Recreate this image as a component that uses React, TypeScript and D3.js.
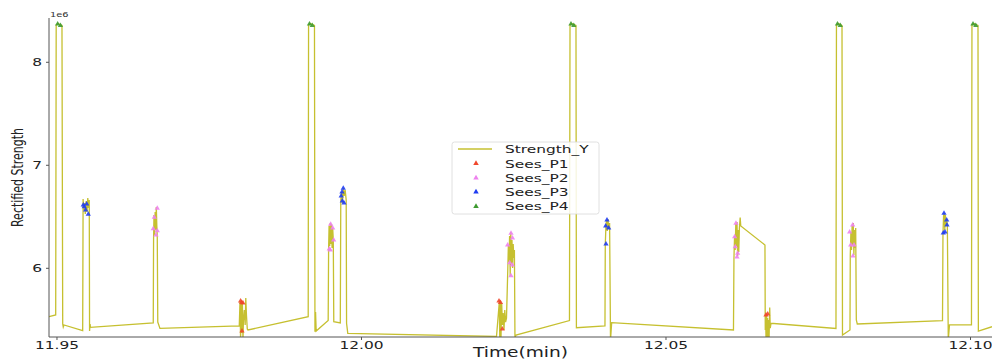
import React from "react";
import * as d3 from "d3";

// ---- data (time in minutes, strength in units of 1e6) ----
const lineTime = [
  11.94869, 11.94979, 11.94987, 11.95016, 11.95049, 11.95082, 11.95094, 11.95103, 11.95115, 11.95422,
  11.95429, 11.9544, 11.95452, 11.95465, 11.9548, 11.95493, 11.95506, 11.95519, 11.9553, 11.95535,
  11.95544, 11.9555, 11.96581, 11.96586, 11.96593, 11.96603, 11.96612, 11.96622, 11.96631, 11.96639,
  11.96647, 11.96655, 11.96691, 11.97993, 11.98005, 11.98015, 11.98025, 11.98034, 11.98044, 11.98054,
  11.98062, 11.98076, 11.9809, 11.981, 11.98112, 11.98125, 11.98136, 11.99125, 11.99131, 11.99163,
  11.99195, 11.99228, 11.99236, 11.99246, 11.99256, 11.99453, 11.9946, 11.99468, 11.99478, 11.99488,
  11.99497, 11.99507, 11.99517, 11.99527, 11.99537, 11.99545, 11.99652, 11.9966, 11.99672, 11.99688,
  11.99701, 11.99716, 11.99732, 11.99749, 11.99755, 11.99775, 12.02217, 12.02263, 12.02271, 12.02281,
  12.0229, 12.02302, 12.02314, 12.02327, 12.0234, 12.02353, 12.02366, 12.02381, 12.02402, 12.02412,
  12.02422, 12.02432, 12.02442, 12.02451, 12.02461, 12.02471, 12.02481, 12.02491, 12.02501, 12.02511,
  12.0252, 12.02537, 12.03415, 12.03424, 12.03456, 12.03489, 12.03522, 12.03529, 12.03998, 12.04003,
  12.04013, 12.04024, 12.04036, 12.04047, 12.04061, 12.04074, 12.04089, 12.04108, 12.06108, 12.06116,
  12.06126, 12.06136, 12.06146, 12.06156, 12.06166, 12.06176, 12.06185, 12.06195, 12.06205, 12.06218,
  12.06228, 12.06625, 12.0663, 12.06635, 12.06643, 12.06652, 12.0666, 12.06668, 12.06676, 12.06685,
  12.06693, 12.06703, 12.06712, 12.06724, 12.07791, 12.07799, 12.07832, 12.07865, 12.0789, 12.07898,
  12.08021, 12.08026, 12.08036, 12.08046, 12.08056, 12.08065, 12.08075, 12.08085, 12.08095, 12.08105,
  12.08115, 12.08125, 12.08141, 12.0954, 12.09548, 12.09558, 12.09568, 12.09578, 12.09588, 12.09597,
  12.09609, 12.0962, 12.09635, 12.09655, 12.10016, 12.10024, 12.10057, 12.1009, 12.10123, 12.10129,
  12.10353,
];

const strengthY = [
  5.53, 5.547, 8.362, 8.377, 8.367, 8.357, 5.459, 5.43, 5.45, 5.396,
  6.673, 6.566, 6.634, 6.527, 6.653, 6.547, 6.683, 6.585, 6.663, 5.391,
  5.459, 5.427, 5.469, 6.275, 6.518, 6.323, 6.547, 6.372, 6.595, 6.42,
  6.294, 5.478, 5.417, 5.44, 5.673, 5.304, 5.682, 5.372, 5.673, 5.304,
  5.498, 5.595, 5.45, 5.712, 5.537, 5.411, 5.401, 5.53, 8.362, 8.377,
  8.367, 8.357, 5.384, 5.576, 5.391, 5.493, 6.178, 6.41, 6.216, 6.439,
  6.236, 6.43, 6.197, 6.391, 6.275, 5.482, 5.469, 6.663, 6.741, 6.634,
  6.779, 6.702, 6.76, 6.663, 5.466, 5.369, 5.338, 5.673, 5.304, 5.682,
  5.304, 5.663, 5.45, 5.566, 5.401, 5.595, 5.478, 5.517, 5.984, 6.226,
  6.061, 6.313, 5.925, 6.353, 6.042, 6.275, 6.003, 6.236, 6.1, 6.178,
  5.323, 5.352, 5.493, 8.362, 8.377, 8.367, 8.357, 5.423, 5.44, 6.226,
  6.401, 6.469, 6.362, 6.479, 6.382, 6.44, 5.304, 5.472, 5.401, 6.1,
  6.313, 6.178, 6.43, 6.216, 6.449, 6.119, 6.372, 6.158, 6.391, 6.493,
  6.411, 6.226, 5.401, 5.537, 5.304, 5.556, 5.304, 5.517, 5.304, 5.498,
  5.323, 5.619, 5.42, 5.466, 5.416, 8.362, 8.377, 8.367, 8.357, 5.352,
  5.401, 6.129, 6.352, 6.178, 6.411, 6.216, 6.439, 6.129, 6.372, 6.197,
  6.391, 5.498, 5.459, 5.491, 6.333, 6.508, 6.537, 6.372, 6.518, 6.411,
  6.479, 6.411, 5.304, 5.45, 5.45, 8.362, 8.377, 8.367, 8.357, 5.391,
  5.433,
];

const p1Time = [11.98015, 11.98034, 11.98054, 11.98038, 12.02258, 12.02282, 12.02312, 12.06642, 12.0667];
const p1Value = [5.682, 5.668, 5.663, 5.391, 5.682, 5.668, 5.411, 5.547, 5.556];

const p2Time = [
  11.96647, 11.96598, 11.96581, 11.96647, 11.96626,
  11.99494, 11.99527, 11.99543, 11.99488, 11.99471,
  12.02455, 12.02479, 12.024, 12.02433, 12.02476, 12.02455,
  12.06149, 12.06128, 12.06138, 12.06177, 12.06166,
  12.08065, 12.08016, 12.08033, 12.08087, 12.0807,
];
const p2Value = [
  6.583, 6.495, 6.384, 6.365, 6.323,
  6.427, 6.391, 6.275, 6.178, 6.188,
  6.34, 6.294, 6.226, 6.054, 6.032, 5.928,
  6.437, 6.307, 6.21, 6.146, 6.11,
  6.42, 6.352, 6.226, 6.226, 6.119,
];

const p3Time = [
  11.95432, 11.95448, 11.95471, 11.95488, 11.95514,
  11.99701, 11.9968, 11.99667, 11.99713, 11.99685,
  12.04031, 12.04059, 12.04015, 12.0401,
  12.09565, 12.09609, 12.09614, 12.09581, 12.09553,
];
const p3Value = [
  6.615, 6.598, 6.566, 6.624, 6.524,
  6.777, 6.741, 6.702, 6.634, 6.653,
  6.469, 6.391, 6.236, 6.411,
  6.534, 6.469, 6.42, 6.353, 6.343,
];

const p4Time = [11.95011, 11.95057, 11.99146, 11.99192, 12.0344, 12.03486, 12.07816, 12.07862, 12.10041, 12.10087];
const p4Value = [8.372, 8.357, 8.372, 8.357, 8.372, 8.357, 8.372, 8.357, 8.372, 8.357];

const xTicks = [11.95, 12.0, 12.05, 12.1];
const xTickLabels = ["11.95", "12.00", "12.05", "12.10"];
const yTicks = [6, 7, 8];
const yTickLabels = ["6", "7", "8"];
const legendLabels = ["Strength_Y", "Sees_P1", "Sees_P2", "Sees_P3", "Sees_P4"];

const xDomain = [11.94869, 12.10353];
const yDomain = [5.333, 8.43];

// ---- styles ----
const LINE_COLOR = "#c6c030";
const P_COLORS = ["#f0472c", "#ee82ee", "#1f3cf2", "#3d9a2f"];
const AXIS = "#555";
const FONT = "DejaVu Sans";
const SX = 1.4;

export default function App() {
  const left = 49, right = 992, top = 18, bottom = 337;
  const x = d3.scaleLinear().domain(xDomain).range([left, right]);
  const y = d3.scaleLinear().domain(yDomain).range([bottom, top]);

  const pts: [number, number][] = lineTime.map((t, i) => [t, strengthY[i]]);
  const lineGen = d3
    .line<[number, number]>()
    .x((d) => x(d[0]))
    .y((d) => y(d[1]));
  const tri = d3.symbol(d3.symbolTriangle, 12)() as string;
  const triLeg = d3.symbol(d3.symbolTriangle, 13)() as string;

  const series = [
    { t: p1Time, v: p1Value, c: P_COLORS[0] },
    { t: p2Time, v: p2Value, c: P_COLORS[1] },
    { t: p3Time, v: p3Value, c: P_COLORS[2] },
    { t: p4Time, v: p4Value, c: P_COLORS[3] },
  ];

  const legX = 452, legY = 142, legW = 147, legH = 72;
  const legRows = [149, 163.5, 178, 192, 206.3];

  return (
    <svg
      width={992}
      height={360}
      style={{ position: "absolute", left: 0, top: 0, background: "#fff" }}
      fontFamily={FONT}
    >
      <defs>
        <clipPath id="plot">
          <rect x={left} y={top - 4} width={right - left} height={bottom - top + 4} />
        </clipPath>
      </defs>

      <g clipPath="url(#plot)">
        <path d={lineGen(pts) || ""} fill="none" stroke={LINE_COLOR} strokeWidth={1.3} strokeLinejoin="miter" />
        {series.map((s, si) =>
          s.t.map((t, i) => (
            <path
              key={`${si}-${i}`}
              d={tri}
              transform={`translate(${x(t)},${y(s.v[i])})`}
              fill={s.c}
              opacity={0.9}
            />
          ))
        )}
      </g>

      {/* spines */}
      <line x1={left} x2={left} y1={top} y2={bottom} stroke={AXIS} strokeWidth={1} />
      <line x1={left} x2={right} y1={bottom} y2={bottom} stroke={AXIS} strokeWidth={1} />

      {/* x ticks */}
      {xTicks.map((t, i) => (
        <g key={`xt${i}`}>
          <line x1={x(t)} x2={x(t)} y1={bottom} y2={bottom + 3} stroke={AXIS} />
          <text
            transform={`translate(${x(t)},${bottom + 12}) scale(${SX},1)`}
            textAnchor="middle"
            fontSize={11}
            fill="#222"
          >
            {xTickLabels[i]}
          </text>
        </g>
      ))}

      {/* y ticks */}
      {yTicks.map((v, i) => (
        <g key={`yt${i}`}>
          <line x1={left - 3} x2={left} y1={y(v)} y2={y(v)} stroke={AXIS} />
          <text
            transform={`translate(${left - 7},${y(v) + 4}) scale(${SX},1)`}
            textAnchor="end"
            fontSize={11}
            fill="#222"
          >
            {yTickLabels[i]}
          </text>
        </g>
      ))}

      {/* offset label */}
      <text transform={`translate(${left + 1},${top - 1.5}) scale(${SX},1)`} fontSize={7} fill="#333">
        1e6
      </text>

      {/* axis labels */}
      <text
        transform={`translate(${(left + right) / 2},${357}) scale(${SX},1)`}
        textAnchor="middle"
        fontSize={13.3}
        fill="#222"
      >
        Time(min)
      </text>
      <text
        transform={`translate(${23},${(top + bottom) / 2}) scale(${SX},1) rotate(-90)`}
        textAnchor="middle"
        fontSize={11}
        fill="#222"
      >
        Rectified Strength
      </text>

      {/* legend */}
      <rect
        x={legX}
        y={legY}
        width={legW}
        height={legH}
        rx={2.5}
        fill="#fff"
        fillOpacity={0.85}
        stroke="#d8d8d8"
        strokeWidth={0.8}
      />
      <line x1={458} x2={492} y1={legRows[0]} y2={legRows[0]} stroke={LINE_COLOR} strokeWidth={1.3} />
      {P_COLORS.map((c, i) => (
        <path key={`lg${i}`} d={triLeg} transform={`translate(${476},${legRows[i + 1]})`} fill={c} />
      ))}
      {legendLabels.map((lab, i) => (
        <text
          key={`lt${i}`}
          transform={`translate(${505},${legRows[i] + 4}) scale(${SX},1)`}
          fontSize={11}
          fill="#222"
        >
          {lab}
        </text>
      ))}
    </svg>
  );
}
